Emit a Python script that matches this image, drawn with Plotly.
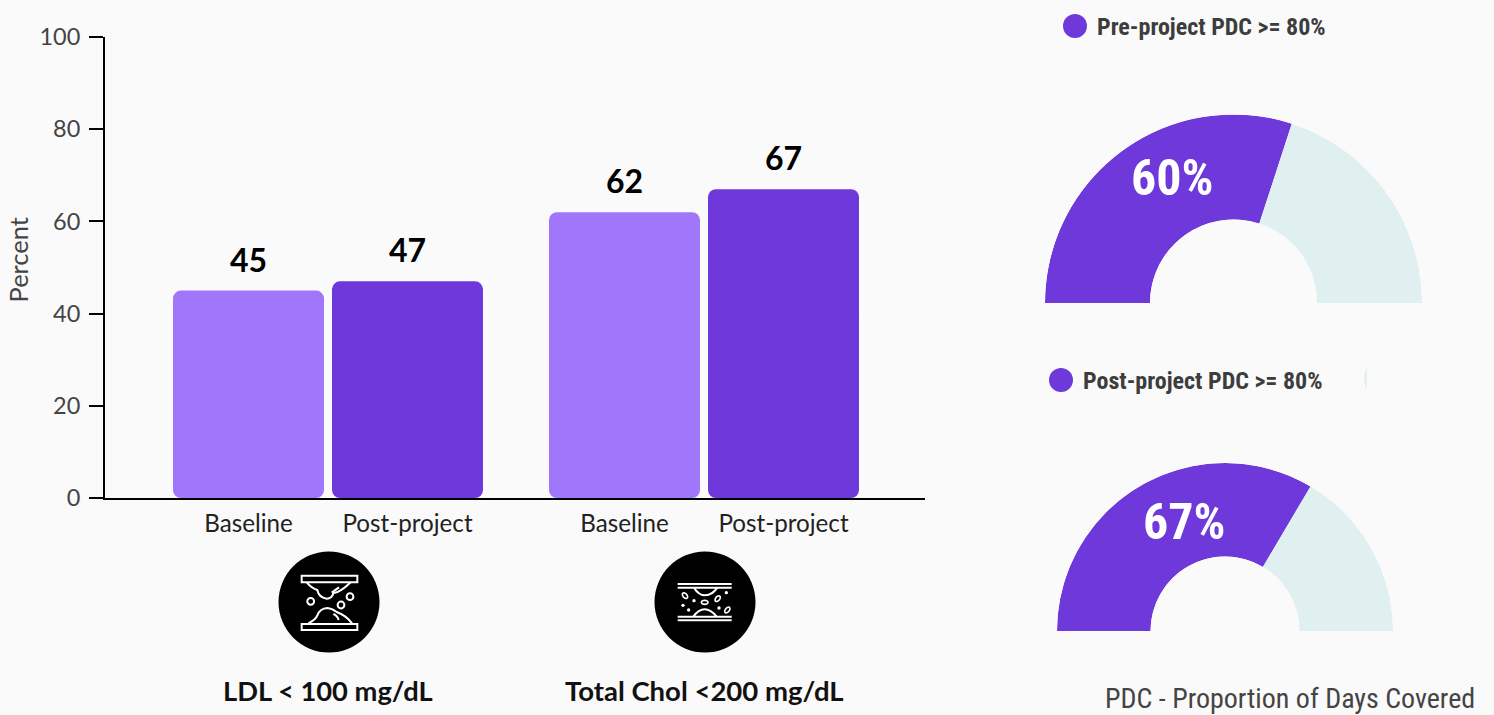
import math, re
import plotly.graph_objects as go

W, H = 1494, 715
CONDENSED = "Roboto Condensed, Liberation Sans Narrow, Roboto, sans-serif"
LATO = "Lato, sans-serif"
BG = "#FAFAFA"; LIGHT = "#A076FB"; DARK = "#6E38DA"; PALE = "#E0F0F0"

# ---- data
bar_labels = ["Baseline", "Post-project", "Baseline", "Post-project"]
bar_values = [45, 47, 62, 67]
bar_colors = [LIGHT, DARK, LIGHT, DARK]
bar_centers = [248.5, 407.5, 624.5, 783.5]
y_ticks = [0, 20, 40, 60, 80, 100]
y_title = "Percent"
group_labels = ["LDL < 100 mg/dL", "Total Chol <200 mg/dL"]
gauge_values = [60, 67]
gauge_titles = ["Pre-project PDC >= 80%", "Post-project PDC >= 80%"]
footer = "PDC - Proportion of Days Covered"

def px(x): return x / W
def py(y): return 1 - y / H

def path(d, ox=0.0, oy=0.0, s=1.0):
    toks = re.findall(r"[MLQCZ]|-?\d+\.?\d*", d)
    out, isx = [], True
    for t in toks:
        if t in "MLQCZ":
            out.append(t); isx = True
        else:
            v = float(t)
            out.append(f"{px(ox + v * s):.5f}" if isx else f"{py(oy + v * s):.5f}")
            isx = not isx
    res = ""
    for t in out:
        res += (t if t in "MLQCZ" else " " + t)
    return res

fig = go.Figure()

# bars: two overlapping halves so that all four corners get rounded
fig.add_trace(go.Bar(x=bar_centers, y=[v * 0.6 for v in bar_values], base=[v * 0.4 for v in bar_values],
                     width=151, marker=dict(color=bar_colors, cornerradius=8, line_width=0), hoverinfo="skip"))
fig.add_trace(go.Bar(x=bar_centers, y=[-v * 0.6 for v in bar_values], base=[v * 0.6 for v in bar_values],
                     width=151, marker=dict(color=bar_colors, cornerradius=8, line_width=0), hoverinfo="skip"))

shapes, annotations = [], []

for c, v in zip(bar_centers, bar_values):
    annotations.append(dict(x=c, y=v, xref="x", yref="y", text=f"<b>{v}</b>", showarrow=False, yanchor="bottom",
                            yshift=10, font=dict(family=LATO, size=32, color="#000")))

def text(x, y, t, size, family, color, bold=False, anchor="center", angle=0):
    annotations.append(dict(x=px(x), y=py(y), xref="paper", yref="paper", text=f"<b>{t}</b>" if bold else t,
                            showarrow=False, xanchor=anchor, yanchor="middle", textangle=angle,
                            font=dict(family=family, size=size, color=color)))

def circle(cx, cy, r, fill, line=None, lw=0):
    shapes.append(dict(type="circle", xref="paper", yref="paper", x0=px(cx - r), x1=px(cx + r),
                       y0=py(cy + r), y1=py(cy - r), fillcolor=fill, line=dict(color=line or fill, width=lw),
                       layer="above"))

def stroke(d, ox, oy, s=1 / 3, w=2, fill="rgba(0,0,0,0)"):
    shapes.append(dict(type="path", xref="paper", yref="paper", path=path(d, ox, oy, s),
                       line=dict(color="white", width=w), fillcolor=fill, layer="above"))

def ellipse(cx, cy, a, b, rot):
    pts = []
    for i in range(16):
        t = 2 * math.pi * i / 16
        x, y = a * math.cos(t), b * math.sin(t)
        r = math.radians(rot)
        pts.append((cx + x * math.cos(r) - y * math.sin(r), cy + x * math.sin(r) + y * math.cos(r)))
    return "M" + " L".join(f"{x:.1f} {y:.1f}" for x, y in pts) + " Z"

# icon 1 (coordinates relative to a 3x crop at 240,540)
ox, oy = 240, 540
circle(329, 602, 50.5, "#000")
stroke("M185 107 L352 107 L352 127 L185 127 Z", ox, oy)
stroke("M185 252 L352 252 L352 270 L185 270 Z", ox, oy)
stroke("M200 127 Q215 145 232 150 Q236 172 260 176 Q276 176 280 160 Q300 158 332 127", ox, oy)
stroke("M205 250 Q228 238 232 226 Q240 205 262 204 Q275 205 290 216 Q318 226 336 250", ox, oy)
stroke("M275 158 L297 142", ox, oy)
stroke("M280 222 Q292 226 296 240", ox, oy)
circle(310.7, 601.3, 3.4, "rgba(0,0,0,0)", "white", 2)
circle(341, 605, 3.4, "rgba(0,0,0,0)", "white", 2)
circle(350, 596.7, 3.4, "rgba(0,0,0,0)", "white", 2)

# icon 2 (relative to a 3x crop at 620,540)
ox, oy = 620, 540
circle(705, 602, 50.5, "#000")
for yy in (132, 143, 230, 241):
    stroke(f"M173 {yy} L335 {yy}", ox, oy)
stroke("M222 143 Q236 166 256 166 Q276 166 292 143", ox, oy)
stroke("M220 230 Q236 208 254 208 Q272 208 290 230", ox, oy)
stroke(ellipse(195, 167, 10, 6, 50), ox, oy, w=1.6)
stroke(ellipse(254, 187, 10, 6, 0), ox, oy, w=1.6)
stroke(ellipse(293, 176, 10, 6, -50), ox, oy, w=1.6)
stroke(ellipse(322, 210, 10, 6, -50), ox, oy, w=1.6)
for dx, dy in [(222, 182), (189, 196), (206, 210), (297, 204), (319, 158)]:
    circle(ox + dx / 3, oy + dy / 3, 1.7, "white")

text(328, 690, group_labels[0], 27.3, LATO, "#111", bold=True)
text(704.5, 690, group_labels[1], 27.5, LATO, "#111", bold=True)
text(17, 260.5, y_title, 25.5, LATO, "#444", angle=-90)

# gauges
gauge_geom = [(1233.5, 303, 188.5, 1172, 178, 1075, 26, 1095, 27),
              (1225, 631, 168, 1184, 522, 1061, 380, 1081, 381)]
data_polar = ["polar", "polar2"]
layout_polar = {}
for name, val, title, g in zip(data_polar, gauge_values, gauge_titles, gauge_geom):
    cx, cy, r, lx, ly, dx, dy, tx, ty = g
    deg = val / 100 * 180
    fig.add_trace(go.Barpolar(r=[1, 1], theta=[deg / 2, deg + (180 - deg) / 2], width=[deg, 180 - deg],
                              marker=dict(color=[DARK, PALE], line_width=0), subplot=name, hoverinfo="skip"))
    layout_polar[name] = dict(
        domain=dict(x=[px(cx - r), px(cx + r)], y=[py(cy), py(cy - r)]),
        sector=[0, 180], hole=0.443, bgcolor="rgba(0,0,0,0)",
        radialaxis=dict(visible=False, range=[0, 1]),
        angularaxis=dict(visible=False, direction="clockwise", rotation=180),
    )
    text(lx, ly, f"{val}%", 50, CONDENSED, "white", bold=True)
    circle(dx, dy, 12, DARK)
    text(tx, ty, title, 24, CONDENSED, "#3D3D3D", bold=True, anchor="left")

# sliver beside the second title
shapes.append(dict(type="path", xref="paper", yref="paper", fillcolor=PALE, line_width=0, layer="above",
                   path=path("M1367 368 Q1361 378 1367 389 Z")))

text(1477, 698, footer, 28, CONDENSED, "#444", anchor="right")

fig.update_layout(
    width=W, height=H, autosize=False, margin=dict(l=0, r=0, t=0, b=0, autoexpand=False),
    paper_bgcolor=BG, plot_bgcolor=BG, barmode="overlay", showlegend=False,
    shapes=shapes, annotations=annotations, **layout_polar,
    xaxis=dict(domain=[px(105), px(925)], range=[105, 925], tickvals=bar_centers, ticktext=bar_labels,
               showgrid=False, zeroline=False, showline=True, linecolor="#000", linewidth=2, ticks="",
               ticklabelstandoff=3, layer="below traces", tickfont=dict(family=LATO, size=24.2, color="#222"),
               anchor="y", fixedrange=True),
    yaxis=dict(domain=[py(498), py(37)], range=[0, 100], tickvals=y_ticks, showgrid=False, zeroline=False,
               showline=True, linecolor="#000", linewidth=2, ticks="outside", ticklen=14, tickwidth=2,
               tickcolor="#000", tickfont=dict(family=LATO, size=23.5, color="#444"), ticklabelstandoff=4,
               anchor="x", layer="below traces", fixedrange=True),
)

fig.write_html("out.html", config=dict(displayModeBar=False),
               post_script="document.body.style.margin='0';document.body.style.background='#FAFAFA';document.body.style.overflow='hidden';")
